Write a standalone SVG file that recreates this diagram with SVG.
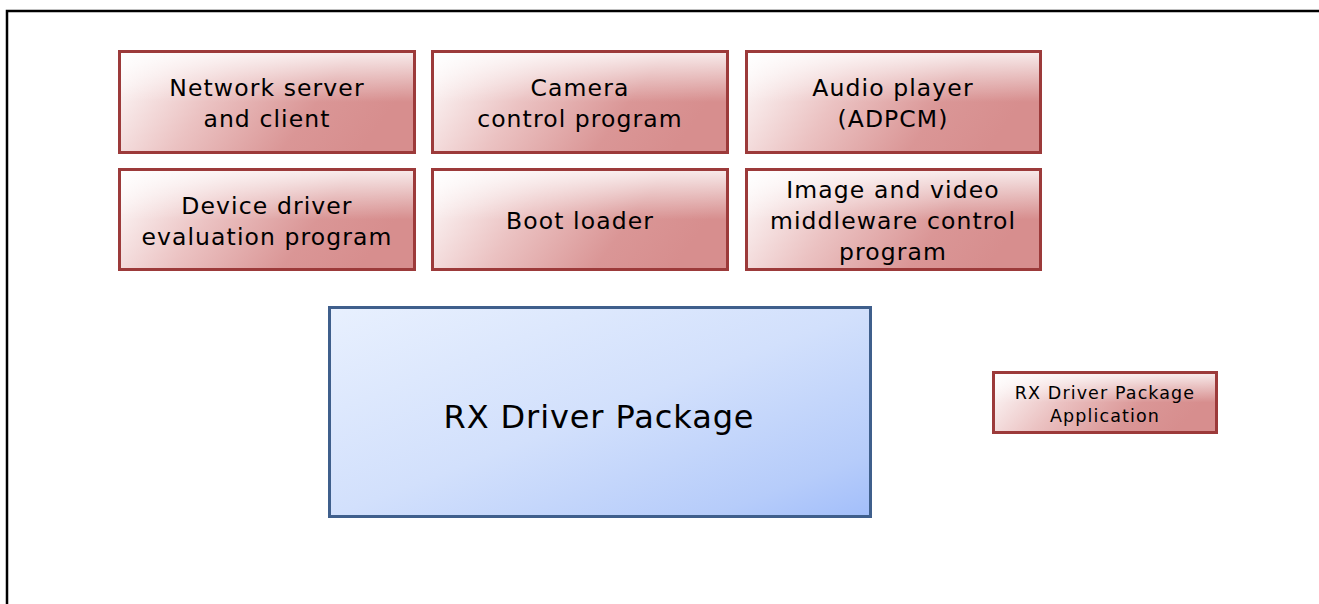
<svg xmlns="http://www.w3.org/2000/svg" width="1319" height="604" viewBox="0 0 1319 604">
<defs>
<linearGradient id="rg" x1="0" y1="0" x2="1" y2="0.25">
<stop offset="0" stop-color="#ffffff"/>
<stop offset="0.4" stop-color="#ebc2c2"/>
<stop offset="0.75" stop-color="#da9696"/>
<stop offset="1" stop-color="#d78e8e"/>
</linearGradient>
<linearGradient id="rgv" x1="0" y1="0" x2="0" y2="1">
<stop offset="0" stop-color="#ffffff" stop-opacity="0.8"/>
<stop offset="0.5" stop-color="#ffffff" stop-opacity="0"/>
</linearGradient>
<linearGradient id="bg" x1="0" y1="0" x2="1" y2="1">
<stop offset="0" stop-color="#e8f0fe"/>
<stop offset="0.5" stop-color="#d2e0fc"/>
<stop offset="0.85" stop-color="#b6ccfa"/>
<stop offset="1" stop-color="#a2befa"/>
</linearGradient>
<style>
.r{fill:url(#rg);stroke:#9c3a3a;stroke-width:3}
.rv{fill:url(#rgv);stroke:none}
.b{fill:url(#bg);stroke:#3f5f8c;stroke-width:3}
text{font-family:"DejaVu Sans",Verdana,sans-serif;fill:#000;text-anchor:middle}
.t{font-size:23.5px;letter-spacing:1.1px}
.s{font-size:17.5px;letter-spacing:1.1px}
.l{font-size:32px;letter-spacing:0.9px}
</style>
</defs>
<rect x="0" y="0" width="1319" height="604" fill="#fff"/>
<path d="M7 604 V11 H1319" fill="none" stroke="#000" stroke-width="2.5"/>
<g id="n1"><rect class="r" x="119.5" y="51.5" width="295" height="101"/><rect class="rv" x="121" y="53" width="292" height="98"/><text class="t" x="267" y="96">Network server</text><text class="t" x="267" y="127">and client</text></g>
<g id="n2"><rect class="r" x="432.5" y="51.5" width="295" height="101"/><rect class="rv" x="434" y="53" width="292" height="98"/><text class="t" x="580" y="96">Camera</text><text class="t" x="580" y="127">control program</text></g>
<g id="n3"><rect class="r" x="746.5" y="51.5" width="294" height="101"/><rect class="rv" x="748" y="53" width="291" height="98"/><text class="t" x="893" y="96">Audio player</text><text class="t" x="893" y="127">(ADPCM)</text></g>
<g id="n4"><rect class="r" x="119.5" y="169.5" width="295" height="100"/><rect class="rv" x="121" y="171" width="292" height="97"/><text class="t" x="267" y="214">Device driver</text><text class="t" x="267" y="245">evaluation program</text></g>
<g id="n5"><rect class="r" x="432.5" y="169.5" width="295" height="100"/><rect class="rv" x="434" y="171" width="292" height="97"/><text class="t" x="580" y="229">Boot loader</text></g>
<g id="n6"><rect class="r" x="746.5" y="169.5" width="294" height="100"/><rect class="rv" x="748" y="171" width="291" height="97"/><text class="t" x="893" y="198">Image and video</text><text class="t" x="893" y="229">middleware control</text><text class="t" x="893" y="260">program</text></g>
<g id="n7"><rect class="b" x="329.5" y="307.5" width="541" height="209"/><text class="l" x="599" y="428">RX Driver Package</text></g>
<g id="n8"><rect class="r" x="993.5" y="372.5" width="223" height="60"/><rect class="rv" x="995" y="374" width="220" height="57"/><text class="s" x="1105" y="399">RX Driver Package</text><text class="s" x="1105" y="422">Application</text></g>
<g id="connectors"></g>
</svg>
